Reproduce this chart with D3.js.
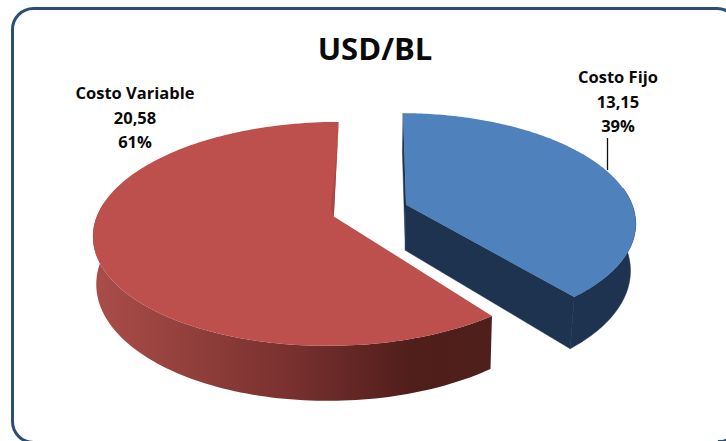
<!DOCTYPE html>
<html><head><meta charset="utf-8">
<script src="https://cdn.jsdelivr.net/npm/d3@7"></script>
<style>html,body{margin:0;padding:0;background:#fff;overflow:hidden}text{font-family:"Open Sans",sans-serif;fill:#0a0a0a}</style>
</head><body><svg id="c" width="726" height="441"></svg>
<script>
const categories = ["Costo Fijo", "Costo Variable"];
const values = [13.15, 20.58];
const valueLabels = ["13,15", "20,58"];
const percents = ["39%", "61%"];
const title = "USD/BL";
const topColors = ["#4f81bd", "#bd4f4c"];

const cx = 369.5, cy = 210.5, a = 107.4, k = -0.155, h = 46, e = 0.16;
const view = [
  { width: 228, shift: 2.5, shrink: 0.02, skew: 0.008 },
  { width: 235, shift: 0, shrink: 0.012, skew: 0.045 }
];
const project = (u, v, z, w) => {
  const d = 1 + k * v;
  return [cx + w.shift + w.width * u / d * (1 - w.shrink * z), cy + (a * v + h * z) / d];
};
const svg = d3.select("#c");
const defs = svg.append("defs");
const grad = defs.append("linearGradient").attr("id", "redSide")
  .attr("gradientUnits", "userSpaceOnUse").attr("x1", 95).attr("x2", 490).attr("y1", 0).attr("y2", 0);
grad.append("stop").attr("offset", 0).attr("stop-color", "#aa4d49");
grad.append("stop").attr("offset", 0.5).attr("stop-color", "#78302e");
grad.append("stop").attr("offset", 0.8).attr("stop-color", "#501e1b");
grad.append("stop").attr("offset", 1).attr("stop-color", "#4e1f1c");

svg.append("rect").attr("x", 12.5).attr("y", 8.5).attr("width", 725.5).attr("height", 434)
  .attr("rx", 21).attr("fill", "#fff").attr("stroke", "#2c4d75").attr("stroke-width", 3);
svg.append("line").attr("x1", 718).attr("x2", 726).attr("y1", 440.5).attr("y2", 440.5)
  .attr("stroke", "#2c4d75").attr("stroke-width", 1);

const arcs = d3.pie().sort(null)(values);
const line = d3.line();
const sample = (s, t0, t1) => d3.range(0, 161).map(i => {
  const t = t0 + (t1 - t0) * i / 160;
  const m = (s.startAngle + s.endAngle) / 2;
  return [Math.sin(t) + e * Math.sin(m), -Math.cos(t) - e * Math.cos(m)];
});
const centre = s => {
  const m = (s.startAngle + s.endAngle) / 2;
  return [e * Math.sin(m), -e * Math.cos(m)];
};

const sideColors = ["#1e3350", "url(#redSide)"];
arcs.forEach((s, i) => {
  const w = view[i];
  const P = z => p => project(p[0], p[1], z, w);
  const c = centre(s);
  const rim = sample(s, s.startAngle + w.skew, s.endAngle);
  const g = svg.append("g");
  if (i === 0) {
    [rim[0], rim[rim.length - 1]].forEach(r => {
      g.append("path").attr("d", line([P(0)(c), P(0)(r), P(1)(r), P(1)(c)]) + "Z")
        .attr("fill", "#1e3350").attr("stroke", "#1e3350").attr("stroke-width", 0.5);
    });
  }
  const front = rim.filter(p => p[1] - c[1] > -0.16);
  g.append("path").attr("d", line(front.map(P(0)).concat(front.slice().reverse().map(P(1)))) + "Z")
    .attr("fill", sideColors[i]).attr("stroke", i === 0 ? "#1e3350" : "none").attr("stroke-width", 0.5);
  g.append("path").attr("d", line([P(0)(c)].concat(rim.map(P(0)))) + "Z").attr("fill", topColors[i]);
  if (i === 1) {
    const r = rim[rim.length - 1], p0 = P(0)(r), p1 = P(0)(c);
    g.append("path").attr("d", line([p0, p1, [p1[0] - 3, p1[1] - 8], [(p0[0] + p1[0]) / 2 - 1, (p0[1] + p1[1]) / 2]]) + "Z")
      .attr("fill", "#a84845");
  }
});

svg.append("text").attr("x", 375).attr("y", 60).attr("text-anchor", "middle")
  .style("font-size", "31px").style("font-weight", 700).text(title);

const labelPos = [[618, 83], [135, 99]];
arcs.forEach((s, i) => {
  [categories[i], valueLabels[i], percents[i]].forEach((t, j) => {
    svg.append("text").attr("x", labelPos[i][0]).attr("y", labelPos[i][1] + j * 24.5)
      .attr("text-anchor", "middle").style("font-size", "16.5px").style("font-weight", 700).text(t);
  });
});
svg.append("line").attr("x1", 607.5).attr("x2", 607.5).attr("y1", 138).attr("y2", 170)
  .attr("stroke", "#111").attr("stroke-width", 1.3);
</script></body></html>
